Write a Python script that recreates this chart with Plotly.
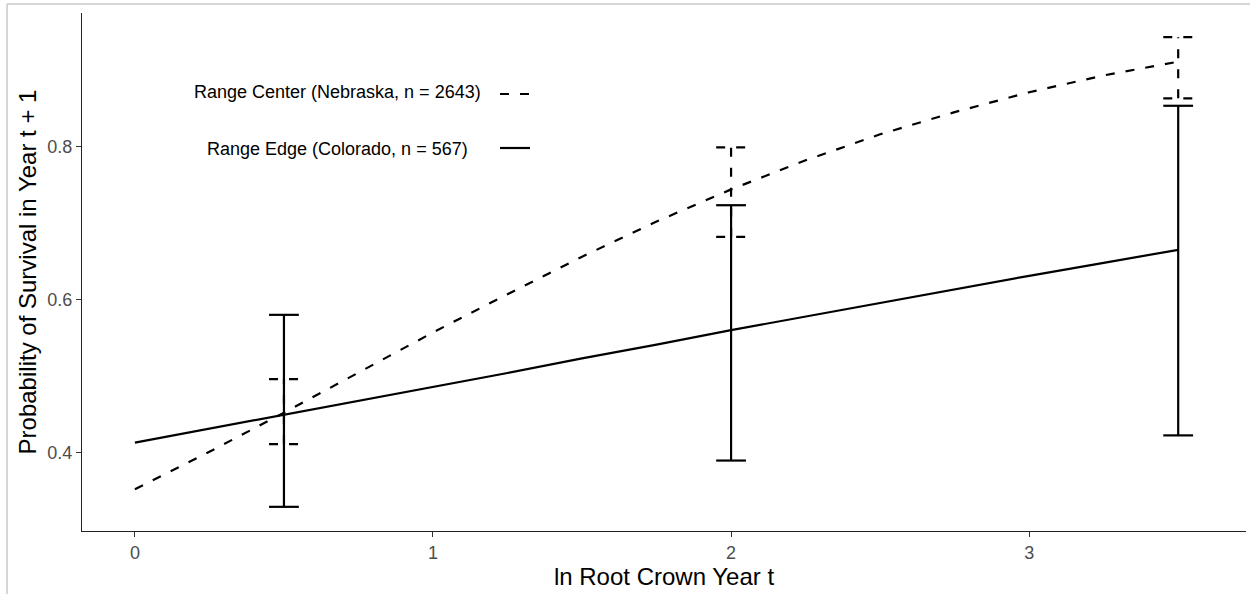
import plotly.graph_objects as go

# ---- data ----
x_curve = [0, 0.25, 0.5, 0.75, 1.0, 1.25, 1.5, 1.75, 2.0, 2.25, 2.5, 2.75, 3.0, 3.25, 3.5]
nebraska_curve = [0.352, 0.401, 0.452, 0.504, 0.557, 0.607, 0.656, 0.702, 0.744,
                  0.782, 0.816, 0.845, 0.871, 0.893, 0.911]
colorado_curve = [0.413, 0.431, 0.449, 0.467, 0.485, 0.504, 0.523, 0.541, 0.560,
                  0.578, 0.596, 0.614, 0.631, 0.648, 0.665]

x_err = [0.5, 2.0, 3.5]
nebraska_lo = [0.411, 0.682, 0.863]
nebraska_hi = [0.496, 0.799, 0.943]
colorado_lo = [0.329, 0.3895, 0.4224]
colorado_hi = [0.580, 0.7233, 0.8533]

x_ticks = [0, 1, 2, 3]
y_ticks = [0.4, 0.6, 0.8]
legend_labels = ["Range Center (Nebraska, n = 2643)", "Range Edge (Colorado, n = 567)"]
x_title = "ln Root Crown Year t"
y_title = "Probability of Survival in Year t + 1"

# ---- layout geometry ----
W, H = 1250, 594
ML, MR, MT, MB = 82, 4, 13, 63
PW, PH = W - ML - MR, H - MT - MB
FONT = "Liberation Sans, Arial, sans-serif"
LW = 2.2
DASH = "9px,11px"
CAP = 0.05


def px_x(px):
    return (px - ML) / PW


def px_y(py):
    return (H - MB - py) / PH


def errorbar_path(xs, lo, hi):
    xx, yy = [], []
    for x, l, h in zip(xs, lo, hi):
        xx += [x, x, None, x - CAP, x + CAP, None, x - CAP, x + CAP, None]
        yy += [l, h, None, l, l, None, h, h, None]
    return xx, yy


fig = go.Figure()

fig.add_trace(go.Scatter(x=x_curve, y=colorado_curve, mode="lines",
                         line=dict(color="black", width=LW), showlegend=False, hoverinfo="skip"))
fig.add_trace(go.Scatter(x=x_curve, y=nebraska_curve, mode="lines",
                         line=dict(color="black", width=LW, dash=DASH), showlegend=False,
                         hoverinfo="skip"))

ex, ey = errorbar_path(x_err, colorado_lo, colorado_hi)
fig.add_trace(go.Scatter(x=ex, y=ey, mode="lines", connectgaps=False,
                         line=dict(color="black", width=LW), showlegend=False, hoverinfo="skip"))
ex, ey = errorbar_path(x_err, nebraska_lo, nebraska_hi)
fig.add_trace(go.Scatter(x=ex, y=ey, mode="lines", connectgaps=False,
                         line=dict(color="black", width=LW, dash=DASH), showlegend=False,
                         hoverinfo="skip"))

# manual legend (labels centred, key to the right)
shapes = []
annotations = []
rows = [(92, 94, DASH), (149, 148, "solid")]
for lab, (ty, ly, dash) in zip(legend_labels, rows):
    annotations.append(dict(xref="paper", yref="paper", x=px_x(337.5), y=px_y(ty),
                            text=lab, showarrow=False, xanchor="center", yanchor="middle",
                            font=dict(family=FONT, size=18, color="black")))
    shapes.append(dict(type="line", xref="paper", yref="paper",
                       x0=px_x(500), x1=px_x(530), y0=px_y(ly), y1=px_y(ly),
                       line=dict(color="black", width=LW, dash=dash)))

# outer light grey frame (top and left edges)
shapes.append(dict(type="line", xref="paper", yref="paper", x0=px_x(7), x1=px_x(W),
                   y0=px_y(4), y1=px_y(4), line=dict(color="#c8c8c8", width=1.5)))
shapes.append(dict(type="line", xref="paper", yref="paper", x0=px_x(7), x1=px_x(7),
                   y0=px_y(4), y1=px_y(H), line=dict(color="#c8c8c8", width=1.5)))

axis_common = dict(showgrid=False, zeroline=False, showline=True, linecolor="#222222",
                   linewidth=1.4, ticks="outside", ticklen=5, tickwidth=1.2,
                   tickcolor="#333333", mirror=False,
                   tickfont=dict(family=FONT, size=18, color="#4D4D4D"))

fig.update_layout(
    width=W, height=H,
    margin=dict(l=ML, r=MR, t=MT, b=MB, autoexpand=False),
    paper_bgcolor="white", plot_bgcolor="white",
    shapes=shapes, annotations=annotations,
    xaxis=dict(range=[-0.1775, 3.7275], tickvals=x_ticks, ticktext=[str(v) for v in x_ticks],
               title=dict(text=x_title, font=dict(family=FONT, size=24, color="black"),
                          standoff=2),
               **axis_common),
    yaxis=dict(range=[0.2974, 0.9746], tickvals=y_ticks, ticktext=[f"{v:.1f}" for v in y_ticks],
               title=dict(text=y_title, font=dict(family=FONT, size=24, color="black"),
                          standoff=3),
               **axis_common),
)

fig.write_html("out.html", config={"displayModeBar": False},
               post_script="document.body.style.margin='0';document.body.style.overflow='hidden';")
